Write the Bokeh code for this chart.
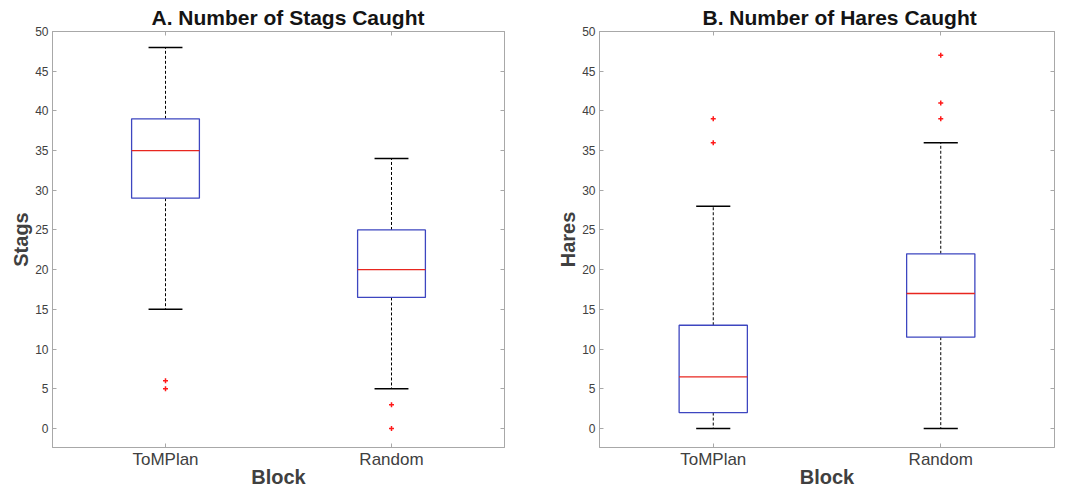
from bokeh.plotting import figure
from bokeh.layouts import row
from bokeh.models import (FactorRange, LinearAxis, CategoricalAxis, FixedTicker,
                          ColumnDataSource, Range1d)
from bokeh.transform import dodge
from bokeh.embed import file_html
from bokeh.resources import INLINE

# ---------------- data ----------------
blocks = ["ToMPlan", "Random"]

stags_lower = [15, 5]
stags_q1 = [29, 16.5]
stags_median = [35, 20]
stags_q3 = [39, 25]
stags_upper = [48, 34]
stags_out_block = ["ToMPlan", "ToMPlan", "Random", "Random"]
stags_out_value = [5, 6, 3, 0]

hares_lower = [0, 0]
hares_q1 = [2, 11.5]
hares_median = [6.5, 17]
hares_q3 = [13, 22]
hares_upper = [28, 36]
hares_out_block = ["ToMPlan", "ToMPlan", "Random", "Random", "Random"]
hares_out_value = [36, 39, 39, 41, 47]

y_ticks = list(range(0, 51, 5))

# ---------------- style ----------------
FONT = "Liberation Sans"
AXIS_GRAY = "#a8a8a8"
TEXT_GRAY = "#404040"
BOX_BLUE = "#3d46c0"
MED_RED = "#e8261f"


def make_panel(title, ylabel, lower, q1, med, q3, upper, out_b, out_v,
               frame_w, frame_h, border_left, border_right, title_offset,
               title_standoff):
    p = figure(x_range=FactorRange(*blocks), y_range=Range1d(-2.4, 50),
               frame_width=frame_w, frame_height=frame_h,
               min_border_left=border_left, min_border_right=border_right,
               min_border_top=0, min_border_bottom=0,
               output_backend="svg", toolbar_location=None,
               title=title)
    p.title.text_font = FONT
    p.title.text_font_size = "21px"
    p.title.text_font_style = "bold"
    p.title.text_color = "#141414"
    p.title.align = "left"
    p.title.offset = title_offset
    p.title.standoff = title_standoff

    p.xgrid.visible = False
    p.ygrid.visible = False
    p.outline_line_color = AXIS_GRAY
    p.outline_line_width = 1
    p.background_fill_color = "white"
    p.border_fill_color = "white"

    src = ColumnDataSource(dict(block=blocks, lower=lower, q1=q1, med=med,
                                q3=q3, upper=upper))

    # whiskers (dashed)
    p.segment(x0="block", y0="q3", x1="block", y1="upper", source=src,
              line_color="black", line_width=1, line_dash="3 2")
    p.segment(x0="block", y0="q1", x1="block", y1="lower", source=src,
              line_color="black", line_width=1, line_dash="3 2")
    # caps
    p.segment(x0=dodge("block", -0.075, range=p.x_range), y0="upper",
              x1=dodge("block", 0.075, range=p.x_range), y1="upper",
              source=src, line_color="black", line_width=1.5)
    p.segment(x0=dodge("block", -0.075, range=p.x_range), y0="lower",
              x1=dodge("block", 0.075, range=p.x_range), y1="lower",
              source=src, line_color="black", line_width=1.5)
    # boxes
    p.vbar(x="block", bottom="q1", top="q3", width=0.3, source=src,
           fill_color="white", line_color=BOX_BLUE, line_width=1.3)
    # medians
    p.segment(x0=dodge("block", -0.15, range=p.x_range), y0="med",
              x1=dodge("block", 0.15, range=p.x_range), y1="med",
              source=src, line_color=MED_RED, line_width=1.3)
    # outliers
    osrc = ColumnDataSource(dict(block=out_b, value=out_v))
    p.scatter(x="block", y="value", source=osrc, marker="cross", size=5,
              line_color="#ff1a1a", line_width=1.5)

    # axes
    yax = p.yaxis[0]
    yax.ticker = FixedTicker(ticks=y_ticks)
    yax.axis_label = ylabel
    yax.axis_label_text_font = FONT
    yax.axis_label_text_font_size = "20px"
    yax.axis_label_text_font_style = "bold"
    yax.axis_label_text_color = TEXT_GRAY
    yax.axis_label_standoff = 0
    yax.major_label_text_font = FONT
    yax.major_label_text_font_size = "12px"
    yax.major_label_text_color = TEXT_GRAY
    yax.major_label_standoff = 4
    yax.major_tick_in = 4
    yax.major_tick_out = 0
    yax.minor_tick_line_color = None
    yax.axis_line_color = AXIS_GRAY
    yax.major_tick_line_color = AXIS_GRAY

    xax = p.xaxis[0]
    xax.axis_label = "Block"
    xax.axis_label_text_font = FONT
    xax.axis_label_text_font_size = "20px"
    xax.axis_label_text_font_style = "bold"
    xax.axis_label_text_color = TEXT_GRAY
    xax.axis_label_standoff = -6
    xax.major_label_text_font = FONT
    xax.major_label_text_font_size = "17px"
    xax.major_label_text_color = TEXT_GRAY
    xax.major_label_standoff = 2
    xax.major_tick_in = 4
    xax.major_tick_out = 0
    xax.axis_line_color = AXIS_GRAY
    xax.major_tick_line_color = AXIS_GRAY

    # box ticks on right and top (labels not drawn)
    rax = LinearAxis(ticker=FixedTicker(ticks=y_ticks),
                     major_label_text_color=None, major_tick_in=4,
                     major_tick_out=0, minor_tick_line_color=None,
                     axis_line_color=AXIS_GRAY, major_tick_line_color=AXIS_GRAY,
                     major_label_standoff=0)
    p.add_layout(rax, "right")
    tax = CategoricalAxis(major_label_text_color=None, major_tick_in=4,
                          major_tick_out=0, axis_line_color=AXIS_GRAY,
                          major_tick_line_color=AXIS_GRAY,
                          major_label_standoff=0)
    p.add_layout(tax, "above")
    return p


pA = make_panel("A. Number of Stags Caught", "Stags",
                stags_lower, stags_q1, stags_median, stags_q3, stags_upper,
                stags_out_block, stags_out_value, 452, 416, 52, 43, 99, 6)
pB = make_panel("B. Number of Hares Caught", "Hares",
                hares_lower, hares_q1, hares_median, hares_q3, hares_upper,
                hares_out_block, hares_out_value, 455, 416, 52, 23, 103, 6)

layout = row(pA, pB)
open("out.html", "w").write(file_html(layout, INLINE))
